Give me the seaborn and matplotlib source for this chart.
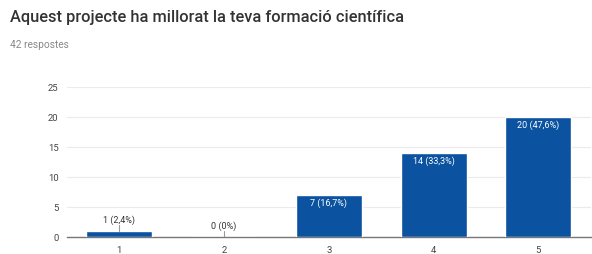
import matplotlib
matplotlib.use("Agg")
import matplotlib.pyplot as plt
import seaborn as sns
import pandas as pd

title = "Aquest projecte ha millorat la teva formació científica"
subtitle = "42 respostes"
categories = ["1", "2", "3", "4", "5"]
counts = [1, 0, 7, 14, 20]
labels = ["1 (2,4%)", "0 (0%)", "7 (16,7%)", "14 (33,3%)", "20 (47,6%)"]
yticks = [0, 5, 10, 15, 20, 25]

sns.set_theme(style="white")
plt.rcParams['font.family'] = ['Roboto', 'DejaVu Sans']

df = pd.DataFrame({"cat": categories, "count": counts})

fig = plt.figure(figsize=(5.92, 2.55), dpi=100)
ax = fig.add_axes([0.113, 0.067, 0.885, 0.588])
sns.barplot(data=df, x="cat", y="count", color="#0b52a0", saturation=1,
            width=0.63, ax=ax, zorder=3)

ax.set_ylim(0, 25)
ax.set_xlim(-0.5, 4.5)
ax.set_yticks(yticks)
ax.set_yticklabels([str(t) for t in yticks])
ax.yaxis.grid(True, color="#ebebeb", linewidth=0.8, zorder=0)
ax.set_xlabel("")
ax.set_ylabel("")
for s in ["top", "right", "left"]:
    ax.spines[s].set_visible(False)
ax.spines["bottom"].set_color("#777777")
ax.spines["bottom"].set_linewidth(1.0)
ax.tick_params(axis="both", length=0, labelsize=6.8, colors="#444444", pad=6)

for i, (c, lab) in enumerate(zip(counts, labels)):
    if c >= 5:
        ax.text(i, c - 0.45, lab, ha="center", va="top", color="white",
                fontsize=6.5, zorder=5)
    else:
        ax.plot([i, i], [c, c + 1.0], color="#999999", linewidth=0.8, zorder=4)
        ax.text(i, c + 1.2, lab, ha="center", va="bottom", color="#333333",
                fontsize=6.5, zorder=5)

fig.text(0.017, 0.93, title, fontsize=11.8, color="#333333",
         fontweight="medium", va="center", ha="left")
fig.text(0.017, 0.825, subtitle, fontsize=7.3, color="#888888",
         va="center", ha="left")

fig.savefig("out.png", dpi=100)
